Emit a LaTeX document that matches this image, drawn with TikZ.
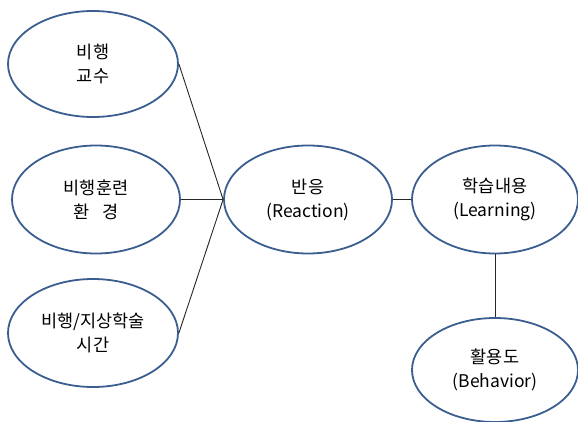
\documentclass[tikz,border=0pt]{standalone}
\usepackage{fontspec}
\setmainfont{Noto Sans CJK KR}
\usetikzlibrary{shapes.geometric}
\definecolor{outl}{HTML}{3B5E91}
\tikzset{
  oval/.style={ellipse, draw=outl, line width=1.8pt, inner sep=0pt, align=center,
    font=\fontsize{17.5}{24}\selectfont, text=black},
  link/.style={draw=black!85, line width=0.9pt}
}
\begin{document}
\begin{tikzpicture}[x=1pt,y=-1pt]
\useasboundingbox (0,0) rectangle (578,422);
\node[oval, minimum width=170pt, minimum height=106pt] (a) at (93,64) {비행\\교수};
\node[oval, minimum width=168pt, minimum height=108pt] (b) at (96,199.5) {비행훈련\\환\hspace{0.75em}경};
\node[oval, minimum width=170pt, minimum height=108pt] (c) at (93,333) {비행/지상학술\\시간};
\node[oval, minimum width=168pt, minimum height=108pt] (r) at (308,199.5) {반응\\(Reaction)};
\node[oval, minimum width=166pt, minimum height=108pt] (l) at (495,199.5) {학습내용\\(Learning)};
\node[oval, minimum width=166pt, minimum height=104pt] (h) at (495,370) {활용도\\(Behavior)};
\draw[link] (a.east) -- (r.west);
\draw[link] (b.east) -- (r.west);
\draw[link] (c.east) -- (r.west);
\draw[link] (r.east) -- (l.west);
\draw[link] (l.south) -- (h.north);
\end{tikzpicture}
\end{document}
